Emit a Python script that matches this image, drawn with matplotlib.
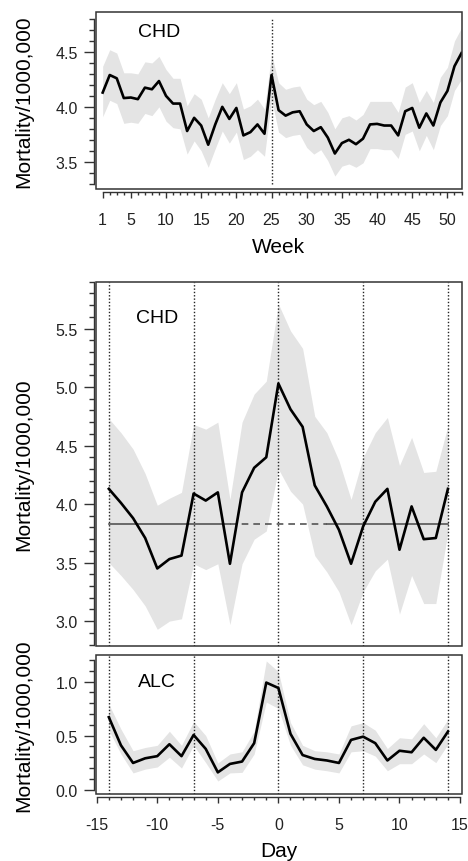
import numpy as np
import matplotlib
matplotlib.use("Agg")
import matplotlib.pyplot as plt
from matplotlib.patches import Rectangle
from matplotlib.ticker import FixedLocator

plt.rcParams['font.family'] = ['Liberation Sans', 'DejaVu Sans']
plt.rcParams['axes.unicode_minus'] = False

# ---------------- data ----------------
weeks = list(range(1, 53))
week_chd = [4.13, 4.29, 4.26, 4.08, 4.085, 4.07, 4.175, 4.16, 4.235, 4.10,
            4.03, 4.03, 3.78, 3.90, 3.83, 3.655, 3.84, 4.00, 3.89, 3.99,
            3.74, 3.77, 3.84, 3.755, 4.29, 3.97, 3.92, 3.95, 3.96, 3.84,
            3.78, 3.815, 3.72, 3.575, 3.67, 3.70, 3.66, 3.71, 3.84, 3.845,
            3.83, 3.83, 3.74, 3.96, 3.99, 3.81, 3.94, 3.83, 4.04, 4.145,
            4.37, 4.49]
week_hi = [4.37, 4.52, 4.49, 4.31, 4.31, 4.30, 4.41, 4.40, 4.46, 4.34,
           4.26, 4.26, 4.01, 4.12, 4.07, 3.90, 4.07, 4.22, 4.12, 4.22,
           3.98, 4.01, 4.07, 3.98, 4.48, 4.22, 4.16, 4.18, 4.19, 4.07,
           4.02, 4.05, 3.95, 3.80, 3.90, 3.92, 3.88, 3.93, 4.05, 4.05,
           4.05, 4.05, 3.95, 4.18, 4.22, 4.04, 4.15, 4.04, 4.27, 4.36,
           4.60, 4.72]
week_lo = [3.91, 4.06, 4.03, 3.85, 3.86, 3.85, 3.94, 3.92, 4.00, 3.87,
           3.81, 3.80, 3.57, 3.69, 3.60, 3.45, 3.62, 3.78, 3.67, 3.77,
           3.52, 3.55, 3.61, 3.55, 4.07, 3.77, 3.72, 3.74, 3.75, 3.63,
           3.57, 3.61, 3.51, 3.37, 3.46, 3.48, 3.45, 3.49, 3.62, 3.62,
           3.61, 3.61, 3.53, 3.75, 3.78, 3.60, 3.74, 3.61, 3.83, 3.92,
           4.15, 4.25]

days = list(range(-14, 15))
day_chd = [4.13, 4.01, 3.88, 3.71, 3.45, 3.53, 3.56, 4.09, 4.03, 4.10,
           3.49, 4.10, 4.31, 4.40, 5.03, 4.81, 4.66, 4.16, 3.98, 3.78,
           3.49, 3.81, 4.02, 4.13, 3.61, 3.98, 3.70, 3.71, 4.13]
day_chd_hi = [4.73, 4.61, 4.47, 4.26, 3.99, 4.05, 4.10, 4.68, 4.64, 4.70,
              4.04, 4.70, 4.94, 5.05, 5.71, 5.48, 5.33, 4.75, 4.61, 4.37,
              4.04, 4.40, 4.61, 4.74, 4.33, 4.57, 4.27, 4.28, 4.67]
day_chd_lo = [3.50, 3.39, 3.27, 3.13, 2.93, 3.00, 3.02, 3.49, 3.44, 3.49,
              2.97, 3.49, 3.70, 3.77, 4.30, 4.11, 4.00, 3.56, 3.42, 3.25,
              2.97, 3.25, 3.43, 3.53, 3.06, 3.39, 3.15, 3.15, 3.76]
chd_baseline = 3.83

day_alc = [0.67, 0.41, 0.247, 0.29, 0.31, 0.42, 0.31, 0.506, 0.377, 0.16,
           0.238, 0.26, 0.43, 0.99, 0.94, 0.516, 0.32, 0.284, 0.27, 0.247,
           0.46, 0.49, 0.43, 0.27, 0.36, 0.346, 0.48, 0.368, 0.537]
day_alc_hi = [0.79, 0.56, 0.36, 0.39, 0.41, 0.54, 0.41, 0.63, 0.50, 0.247,
              0.33, 0.35, 0.54, 1.19, 1.09, 0.62, 0.41, 0.36, 0.35, 0.33,
              0.59, 0.62, 0.55, 0.38, 0.48, 0.47, 0.61, 0.48, 0.65]
day_alc_lo = [0.55, 0.33, 0.155, 0.19, 0.21, 0.30, 0.20, 0.41, 0.25, 0.08,
              0.155, 0.16, 0.33, 0.81, 0.75, 0.41, 0.23, 0.19, 0.175, 0.155,
              0.35, 0.36, 0.31, 0.175, 0.24, 0.24, 0.33, 0.25, 0.42]

week_marks = [25]
day_marks = [-14, -7, 0, 7, 14]

# ---------------- style ----------------
BAND = '#e4e4e4'
AXC = '#333333'
TICK_FS = 11.5
LAB_FS = 15
TXT_FS = 14
LINE_W = 1.9
DOT = (0, (1, 1.4))

fig = plt.figure(figsize=(4.68, 8.62), dpi=100)

L, W = 96 / 468, 365.5 / 468
def fy(px):
    return 1 - px / 862

ax1 = fig.add_axes([L, fy(190), W, (190 - 13.3) / 862])
ax2 = fig.add_axes([L, fy(646.7), W, (646.7 - 282.7) / 862])
ax3 = fig.add_axes([L, fy(795), W, (795 - 656) / 862])


def style(ax, xmaj, xmin, ymaj, ymin, xb, yb):
    for s in ['top', 'right', 'left', 'bottom']:
        ax.spines[s].set_visible(False)
    ax.add_patch(Rectangle((0, 0), 1, 1, transform=ax.transAxes, fill=False,
                           lw=1.1, ec=AXC, clip_on=False, zorder=5))
    ax.spines['left'].set_visible(True)
    ax.spines['left'].set_position(('outward', 1.2))
    ax.spines['left'].set_bounds(*yb)
    ax.spines['left'].set_color(AXC)
    ax.spines['left'].set_linewidth(1.0)
    ax.xaxis.set_major_locator(FixedLocator(xmaj))
    ax.xaxis.set_minor_locator(FixedLocator(xmin))
    ax.yaxis.set_major_locator(FixedLocator(ymaj))
    ax.yaxis.set_minor_locator(FixedLocator(ymin))
    ax.tick_params(axis='y', which='major', direction='out', length=7.2,
                   width=1.0, color=AXC, labelsize=TICK_FS, pad=4.8,
                   labelcolor='#222222')
    ax.tick_params(axis='y', which='minor', direction='out', length=3.6,
                   width=1.0, color=AXC)
    if xb is not None:
        ax.spines['bottom'].set_visible(True)
        ax.spines['bottom'].set_position(('outward', 2.2))
        ax.spines['bottom'].set_bounds(*xb)
        ax.spines['bottom'].set_color(AXC)
        ax.spines['bottom'].set_linewidth(1.0)
        ax.tick_params(axis='x', which='major', direction='out', length=4.1,
                       width=1.0, color=AXC, labelsize=TICK_FS, pad=10,
                       labelcolor='#222222')
        ax.tick_params(axis='x', which='minor', direction='out', length=2.0,
                       width=1.0, color=AXC)
    else:
        ax.tick_params(axis='x', which='both', bottom=False, labelbottom=False)


# ---------- top panel: weekly CHD ----------
ax1.fill_between(weeks, week_lo, week_hi, color=BAND, lw=0, zorder=1)
ax1.vlines(week_marks, 3.3, 4.8, colors='#222222', linestyles=DOT,
           lw=1.0, zorder=2)
ax1.plot(weeks, week_chd, color='black', lw=LINE_W, zorder=3)
ax1.set_xlim(0.05, 52)
ax1.set_ylim(3.252, 4.861)
style(ax1, [1, 5, 10, 15, 20, 25, 30, 35, 40, 45, 50], list(range(1, 53)),
      [3.5, 4.0, 4.5], list(np.round(np.arange(3.3, 4.85, 0.1), 1)),
      (1, 52), (3.3, 4.8))
ax1.set_xlabel('Week', fontsize=LAB_FS)
ax1.set_ylabel('Mortality/1000,000', fontsize=LAB_FS)
ax1.xaxis.set_label_coords(0.5, -0.27)
ax1.yaxis.set_label_coords(-0.172, 0.5)
ax1.text(9, 4.69, 'CHD', fontsize=TXT_FS, ha='center', va='center')

# ---------- middle panel: daily CHD ----------
ax2.fill_between(days, day_chd_lo, day_chd_hi, color=BAND, lw=0, zorder=1)
for d in day_marks:
    ax2.axvline(d, color='#222222', ls=DOT, lw=1.0, zorder=2)
ax2.plot([-14, -4], [chd_baseline, chd_baseline], color='#555555', lw=1.2, zorder=2)
ax2.plot([-4, 4], [chd_baseline, chd_baseline], color='#555555', lw=1.2,
         ls=(0, (4, 3)), zorder=2)
ax2.plot([4, 14], [chd_baseline, chd_baseline], color='#555555', lw=1.2, zorder=2)
ax2.plot(days, day_chd, color='black', lw=LINE_W, zorder=3)
ax2.set_xlim(-15.06, 15.12)
ax2.set_ylim(2.79, 5.90)
style(ax2, [], [], [3.0, 3.5, 4.0, 4.5, 5.0, 5.5],
      list(np.round(np.arange(2.8, 5.95, 0.1), 1)), None, (2.8, 5.9))
ax2.set_ylabel('Mortality/1000,000', fontsize=LAB_FS)
ax2.yaxis.set_label_coords(-0.172, 0.5)
ax2.text(-10, 5.59, 'CHD', fontsize=TXT_FS, ha='center', va='center')

# ---------- bottom panel: daily ALC ----------
ax3.fill_between(days, day_alc_lo, day_alc_hi, color=BAND, lw=0, zorder=1)
for d in day_marks:
    ax3.axvline(d, color='#222222', ls=DOT, lw=1.0, zorder=2)
ax3.plot(days, day_alc, color='black', lw=LINE_W, zorder=3)
ax3.set_xlim(-15.06, 15.12)
ax3.set_ylim(-0.04, 1.245)
style(ax3, [-15, -10, -5, 0, 5, 10, 15], list(range(-15, 16)),
      [0.0, 0.5, 1.0], list(np.round(np.arange(0.0, 1.25, 0.1), 1)),
      (-15, 15), (0.0, 1.2))
ax3.set_xlabel('Day', fontsize=LAB_FS)
ax3.set_ylabel('Mortality/1000,000', fontsize=LAB_FS)
ax3.xaxis.set_label_coords(0.5, -0.34)
ax3.yaxis.set_label_coords(-0.172, 0.5)
ax3.text(-10, 1.0, 'ALC', fontsize=TXT_FS, ha='center', va='center')

fig.savefig('out.png', dpi=100)
